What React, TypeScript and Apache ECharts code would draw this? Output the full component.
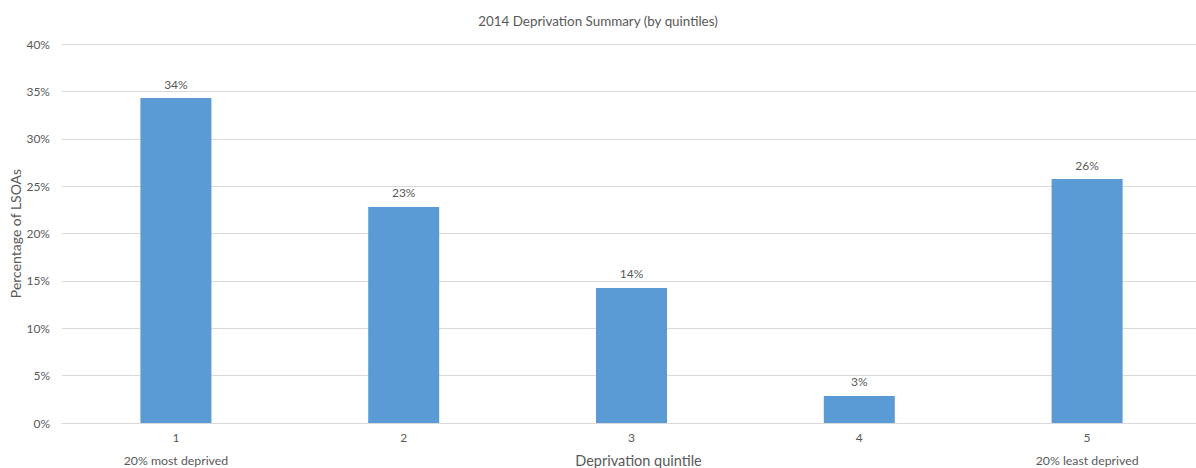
import React, { useEffect, useRef } from "react";
import * as echarts from "echarts";

const categories = ["1", "2", "3", "4", "5"];
const subLabels = ["20% most deprived", "", "", "", "20% least deprived"];
const shares = [34.3, 22.8, 14.25, 2.85, 25.75];
const yTicks = { min: 0, max: 40, interval: 5 };

const FONT = "Lato, 'Open Sans', sans-serif";
const TEXT = "#595959";

export default function App() {
  const ref = useRef<HTMLDivElement>(null);
  useEffect(() => {
    if (!ref.current) return;
    const chart = echarts.init(ref.current, undefined, { renderer: "svg" });
    chart.setOption({
      animation: false,
      textStyle: { fontFamily: FONT, color: TEXT },
      title: {
        text: "2014 Deprivation Summary (by quintiles)",
        left: "center",
        top: 9,
        textStyle: { fontFamily: FONT, fontSize: 13.4, fontWeight: "normal", color: TEXT },
      },
      grid: {
        left: 62,
        right: -5,
        top: 44,
        bottom: 45,
        containLabel: false,
        outerBoundsMode: "none",
      },
      xAxis: {
        type: "category",
        data: categories,
        name: "Deprivation quintile",
        nameLocation: "middle",
        nameGap: 30,
        nameMoveOverlap: false,
        nameTextStyle: { fontFamily: FONT, fontSize: 14.5, color: TEXT, padding: [0, 0, 0, 14] },
        axisLine: { lineStyle: { color: "#D9D9D9" } },
        axisTick: { show: false },
        axisLabel: {
          margin: 2,
          fontFamily: FONT,
          color: TEXT,
          formatter: (v: string, i: number) =>
            subLabels[i] ? `{a|${v}}\n{b|${subLabels[i]}}` : `{a|${v}}`,
          rich: {
            a: { fontSize: 12, lineHeight: 24, fontFamily: FONT, color: TEXT },
            b: { fontSize: 12.3, lineHeight: 22, fontFamily: FONT, color: TEXT },
          },
        },
      },
      yAxis: {
        type: "value",
        min: yTicks.min,
        max: yTicks.max,
        interval: yTicks.interval,
        name: "Percentage of LSOAs",
        nameLocation: "middle",
        nameGap: 40,
        nameMoveOverlap: false,
        nameTextStyle: { fontFamily: FONT, fontSize: 14, color: TEXT },
        axisLine: { show: false },
        axisTick: { show: false },
        axisLabel: { formatter: "{value}%", margin: 12, fontSize: 12, fontFamily: FONT, color: TEXT },
        splitLine: { lineStyle: { color: "#D9D9D9" } },
      },
      series: [
        {
          type: "bar",
          data: shares,
          barWidth: 71,
          itemStyle: { color: "#5B9BD5" },
          label: {
            show: true,
            position: "top",
            distance: 8,
            fontSize: 12,
            fontFamily: FONT,
            color: TEXT,
            formatter: (p: any) => `${Math.round(p.value)}%`,
          },
        },
      ],
    });
    return () => chart.dispose();
  }, []);
  return (
    <div
      ref={ref}
      style={{ position: "fixed", left: 0, top: 0, width: 1196, height: 468, background: "#fff" }}
    />
  );
}
